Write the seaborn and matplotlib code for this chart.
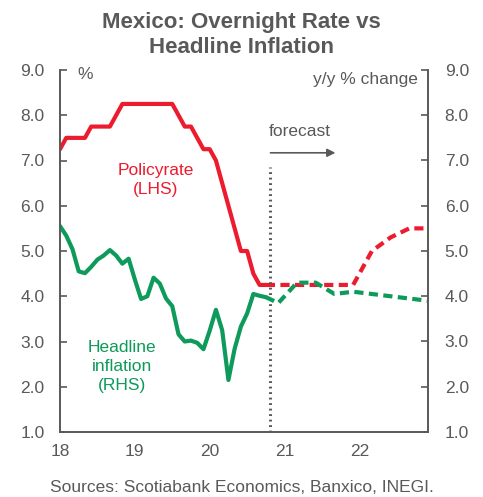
import numpy as np
import pandas as pd
import seaborn as sns
import matplotlib.pyplot as plt

# Data: month index from Jan 2018 (0) to Dec 2022 (59)
hist_months = list(range(0, 34))
policy_rate = [7.25, 7.5, 7.5, 7.5, 7.5, 7.75, 7.75, 7.75, 7.75, 8.0, 8.25, 8.25,
               8.25, 8.25, 8.25, 8.25, 8.25, 8.25, 8.25, 8.0, 7.75, 7.75, 7.5, 7.25,
               7.25, 7.0, 6.5, 6.0, 5.5, 5.0, 5.0, 4.5, 4.25, 4.25]
inflation = [5.55, 5.34, 5.04, 4.55, 4.51, 4.65, 4.81, 4.90, 5.02, 4.90, 4.72, 4.83,
             4.37, 3.94, 4.00, 4.41, 4.28, 3.95, 3.78, 3.16, 3.00, 3.02, 2.97, 2.83,
             3.24, 3.70, 3.25, 2.15, 2.84, 3.33, 3.62, 4.05, 4.01, 3.98]

fc_months = [33, 35, 38, 41, 44, 47, 50, 53, 56, 59]
policy_fc = [4.25, 4.25, 4.25, 4.25, 4.25, 4.25, 5.0, 5.3, 5.5, 5.5]
inflation_fc = [3.98, 3.85, 4.3, 4.3, 4.05, 4.1, 4.05, 4.0, 3.95, 3.9]

year_ticks = [0, 12, 24, 36, 48]
year_labels = ['18', '19', '20', '21', '22']
forecast_start = 33.6

red = '#EC1C2E'
green = '#0E9A5A'
gray = '#595959'
fs = 12.5

hist = pd.DataFrame({'month': hist_months, 'policy': policy_rate, 'cpi': inflation})
fc = pd.DataFrame({'month': fc_months, 'policy': policy_fc, 'cpi': inflation_fc})

sns.set_style('white')
plt.rcParams['font.family'] = ['Liberation Sans', 'DejaVu Sans']

fig = plt.figure(figsize=(4.83, 4.97), dpi=100)
ax = fig.add_axes([60/483, 1 - 432/497, (428 - 60)/483, (432 - 70)/497])
ax2 = ax.twinx()

sns.lineplot(data=hist, x='month', y='policy', ax=ax, color=red, lw=3)
sns.lineplot(data=fc, x='month', y='policy', ax=ax, color=red, lw=3, linestyle=(0, (2.2, 1.3)))
sns.lineplot(data=hist, x='month', y='cpi', ax=ax2, color=green, lw=3)
sns.lineplot(data=fc, x='month', y='cpi', ax=ax2, color=green, lw=3, linestyle=(0, (2.2, 1.3)))

for a in (ax, ax2):
    a.set_xlim(0, 59)
    a.set_ylim(1, 9)
    a.set_yticks(np.arange(1, 9.5, 1))
    a.set_yticklabels([f'{v:.1f}' for v in np.arange(1, 9.5, 1)])
    a.set_xlabel('')
    a.set_ylabel('')
    a.spines['top'].set_visible(False)
    for s in ('left', 'right', 'bottom'):
        a.spines[s].set_color(gray)
        a.spines[s].set_linewidth(1.2)
    a.tick_params(colors=gray, labelcolor=gray, labelsize=fs, direction='in', length=5, width=1.2)

ax.set_xticks(year_ticks)
ax.set_xticklabels(year_labels)
ax.tick_params(axis='x', pad=9)
ax.tick_params(axis='y', left=True, pad=11)
ax2.tick_params(axis='y', right=True, pad=12)

# forecast marker
ax.plot([forecast_start, forecast_start], [1, 6.85], color=gray, lw=2.2, linestyle=(0, (0.6, 1.2)))
ax.annotate('', xy=(44.6, 7.17), xytext=(33.3, 7.17),
            arrowprops=dict(arrowstyle='-|>', color=gray, lw=1.2, mutation_scale=12))
ax.text(38.4, 7.63, 'forecast', color=gray, fontsize=fs, ha='center', va='center')

ax.text(15.4, 6.57, 'Policyrate\n(LHS)', color=red, fontsize=fs, ha='center', va='center', linespacing=1.3)
ax.text(9.9, 2.45, 'Headline\ninflation\n(RHS)', color=green, fontsize=fs, ha='center', va='center', linespacing=1.35)

ax.text(4.0, 8.9, '%', color=gray, fontsize=fs, ha='center', va='center')
ax.text(57.3, 8.78, 'y/y % change', color=gray, fontsize=fs, ha='right', va='center')

fig.text(0.5, 1 - 35/497, 'Mexico: Overnight Rate vs\nHeadline Inflation', color=gray,
         fontsize=16, fontweight='bold', ha='center', va='center', linespacing=1.2)
fig.text(0.5, 1 - 488/497, 'Sources: Scotiabank Economics, Banxico, INEGI.', color=gray,
         fontsize=fs, ha='center', va='center')

fig.savefig('out.png', dpi=100)
